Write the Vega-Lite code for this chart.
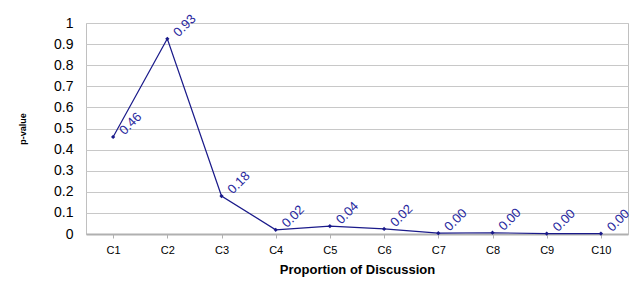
{
  "$schema": "https://vega.github.io/schema/vega-lite/v6.json",
  "width": 542,
  "height": 211,
  "autosize": "none",
  "padding": {"left": 86, "top": 23, "right": 10, "bottom": 53},
  "background": "white",
  "config": {
    "font": "Liberation Sans",
    "view": {"stroke": "#c0c0c0", "strokeWidth": 1}
  },
  "data": {
    "values": [
      {"cat": "C1", "p": 0.46, "label": "0.46"},
      {"cat": "C2", "p": 0.925, "label": "0.93"},
      {"cat": "C3", "p": 0.18, "label": "0.18"},
      {"cat": "C4", "p": 0.02, "label": "0.02"},
      {"cat": "C5", "p": 0.037, "label": "0.04"},
      {"cat": "C6", "p": 0.024, "label": "0.02"},
      {"cat": "C7", "p": 0.004, "label": "0.00"},
      {"cat": "C8", "p": 0.006, "label": "0.00"},
      {"cat": "C9", "p": 0.002, "label": "0.00"},
      {"cat": "C10", "p": 0.002, "label": "0.00"}
    ]
  },
  "encoding": {
    "x": {
      "field": "cat",
      "type": "nominal",
      "sort": null,
      "scale": {"paddingInner": 0, "paddingOuter": 0},
      "axis": {
        "title": "Proportion of Discussion",
        "titleFontSize": 13,
        "titleFontWeight": "bold",
        "titleColor": "black",
        "titlePadding": 8,
        "labelAngle": 0,
        "labelFontSize": 11,
        "labelColor": "black",
        "labelPadding": 6,
        "domainColor": "#b0b0b0",
        "domainWidth": 2,
        "tickColor": "#b0b0b0",
        "tickSize": 4,
        "bandPosition": 0,
        "grid": false
      }
    },
    "y": {
      "field": "p",
      "type": "quantitative",
      "scale": {"domain": [0, 1], "nice": false, "zero": true},
      "axis": {
        "title": "p-value",
        "titleFontSize": 9,
        "titleFontWeight": "bold",
        "titleColor": "black",
        "titlePadding": 26,
        "values": [0, 0.1, 0.2, 0.3, 0.4, 0.5, 0.6, 0.7, 0.8, 0.9, 1],
        "labelOverlap": false,
        "labelExpr": "format(datum.value, '.1~f')",
        "labelFontSize": 14,
        "labelColor": "black",
        "labelPadding": 13,
        "ticks": false,
        "domain": false,
        "gridColor": "#c8c8c8",
        "gridWidth": 1
      }
    }
  },
  "layer": [
    {
      "mark": {"type": "line", "color": "#1a1a8a", "strokeWidth": 1.2}
    },
    {
      "mark": {"type": "point", "shape": "diamond", "filled": true, "color": "#1a1a8a", "size": 18, "opacity": 1}
    },
    {
      "mark": {"type": "text", "angle": -45, "align": "left", "baseline": "middle", "dx": 9, "dy": 3, "fontSize": 13, "color": "#2a2aa0"},
      "encoding": {"text": {"field": "label"}}
    }
  ]
}
